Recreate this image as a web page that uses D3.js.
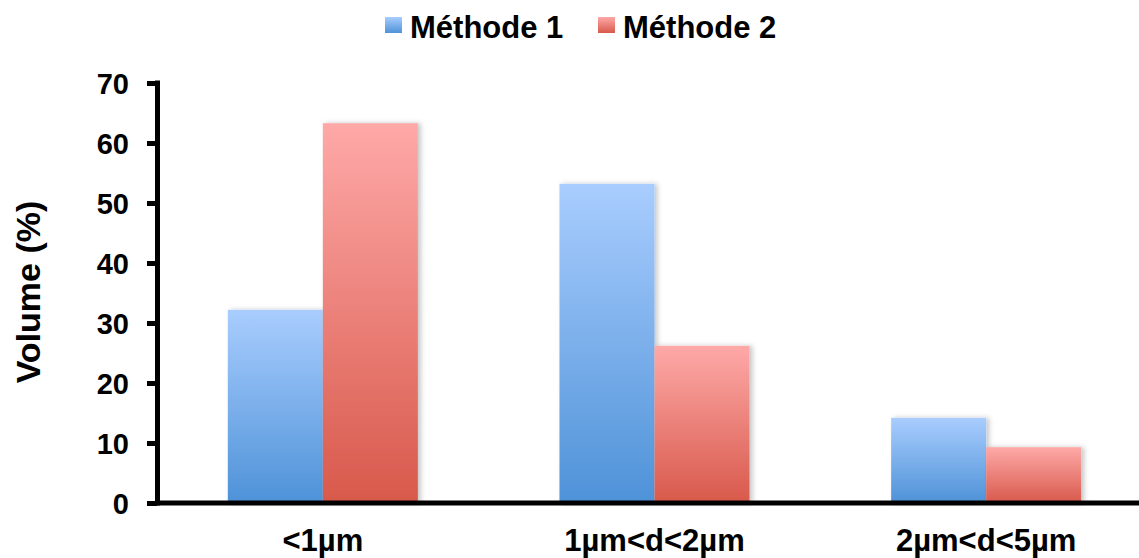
<!DOCTYPE html>
<html><head><meta charset="utf-8">
<script src="https://cdn.jsdelivr.net/npm/d3@7"></script>
<style>body{margin:0;background:#fff}svg{display:block}</style>
</head><body>
<script>
const categories = ["<1µm", "1µm<d<2µm", "2µm<d<5µm"];
const seriesNames = ["Méthode 1", "Méthode 2"];
const methode1 = [32.2, 53.2, 14.2];
const methode2 = [63.3, 26.2, 9.3];
const yTicks = [0, 10, 20, 30, 40, 50, 60, 70];

const W = 1139, H = 558;
const font = "'Liberation Sans', Arial, Helvetica, sans-serif";
const svg = d3.select("body").append("svg").attr("width", W).attr("height", H);
const defs = svg.append("defs");
const grads = [["gBlue", "#a9cdfe", "#4e92d8"], ["gRed", "#fea9a8", "#d8594b"]];
grads.forEach(([id, top, bot]) => {
  const g = defs.append("linearGradient").attr("id", id).attr("x1", 0).attr("y1", 0).attr("x2", 0).attr("y2", 1);
  g.append("stop").attr("offset", "0%").attr("stop-color", top);
  g.append("stop").attr("offset", "100%").attr("stop-color", bot);
});
const f = defs.append("filter").attr("id", "sh").attr("x", "-20%").attr("y", "-10%").attr("width", "140%").attr("height", "120%");
f.append("feDropShadow").attr("dx", 3).attr("dy", 0).attr("stdDeviation", 2.5).attr("flood-color", "#000").attr("flood-opacity", 0.22);

const y = d3.scaleLinear().domain([0, 70]).range([503, 83]);
const x0 = d3.scaleBand().domain(categories).range([157, 1152]).paddingInner(0.427).paddingOuter(0.2135);
const x1 = d3.scaleBand().domain(seriesNames).range([0, x0.bandwidth()]);

const data = categories.map((c, i) => ({cat: c, vals: [methode1[i], methode2[i]]}));
const fills = ["url(#gBlue)", "url(#gRed)"];

const groups = svg.append("g").selectAll("g").data(data).join("g")
  .attr("transform", d => `translate(${x0(d.cat)},0)`);
groups.selectAll("rect").data(d => d.vals.map((v, j) => ({v, j})))
  .join("rect")
  .attr("x", d => x1(seriesNames[d.j]))
  .attr("width", x1.bandwidth())
  .attr("y", d => y(d.v))
  .attr("height", d => y(0) - y(d.v))
  .attr("fill", d => fills[d.j])
  .attr("filter", "url(#sh)");

// y axis
const yAxis = d3.axisLeft(y).tickValues(yTicks).tickSize(10).tickPadding(18);
const ya = svg.append("g").attr("transform", "translate(157,0)").call(yAxis);
ya.select(".domain").remove();
ya.selectAll(".tick line").attr("stroke", "#000").attr("stroke-width", 5);
ya.selectAll(".tick text").attr("font-family", font).attr("font-weight", "bold").attr("font-size", 29).attr("fill", "#000").attr("dy", "0.36em");
svg.append("line").attr("x1", 157.5).attr("x2", 157.5).attr("y1", y(70) - 2.5).attr("y2", y(0) + 2.5).attr("stroke", "#000").attr("stroke-width", 5);

// x axis
const xAxis = d3.axisBottom(x0).tickSize(0).tickPadding(0);
const xa = svg.append("g").attr("transform", `translate(0,${y(0)})`).call(xAxis);
xa.select(".domain").remove();
xa.selectAll(".tick text").attr("font-family", font).attr("font-weight", "bold").attr("font-size", 31).attr("fill", "#000").attr("y", 48).attr("dy", 0);
svg.append("line").attr("x1", 155).attr("x2", W).attr("y1", y(0)).attr("y2", y(0)).attr("stroke", "#000").attr("stroke-width", 5);

// y label
svg.append("text").attr("transform", "translate(40,292) rotate(-90)").attr("text-anchor", "middle")
  .attr("font-family", font).attr("font-weight", "bold").attr("font-size", 34).text("Volume (%)");

// legend
const legX = [385, 598];
const leg = svg.append("g").selectAll("g").data(seriesNames).join("g")
  .attr("transform", (d, i) => `translate(${legX[i]},0)`);
leg.append("rect").attr("x", 0).attr("y", 17).attr("width", 17).attr("height", 16).attr("fill", (d, i) => fills[i]);
leg.append("text").attr("x", 25).attr("y", 38).attr("font-family", font).attr("font-weight", "bold").attr("font-size", 31).text(d => d);
</script>
</body></html>
